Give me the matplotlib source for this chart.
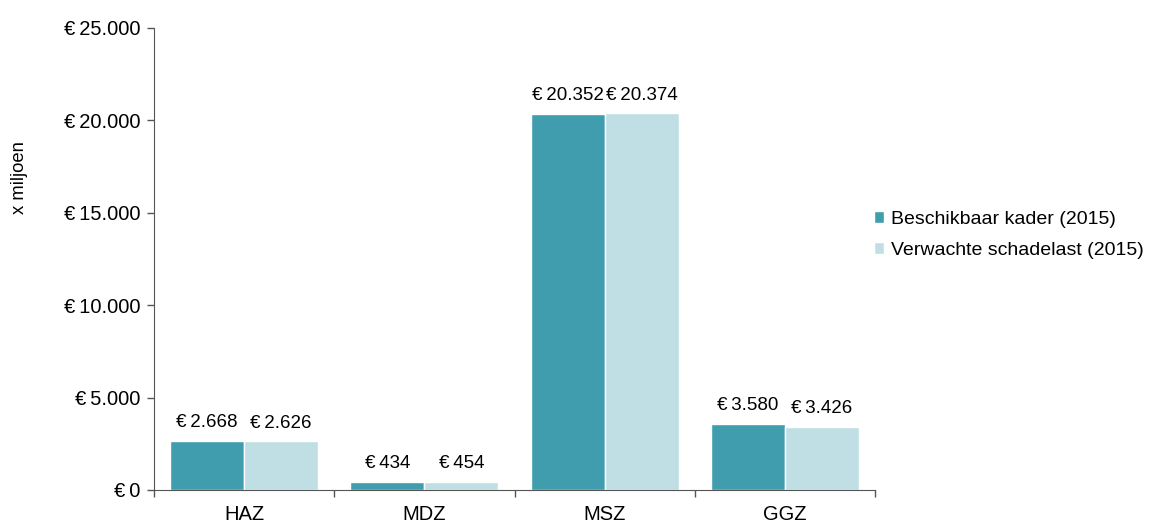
import matplotlib
matplotlib.use("Agg")
import matplotlib.pyplot as plt
import numpy as np
from matplotlib.ticker import FuncFormatter, FixedLocator

categories = ["HAZ", "MDZ", "MSZ", "GGZ"]
kader = [2668, 434, 20352, 3580]
schadelast = [2626, 454, 20374, 3426]
series_names = ["Beschikbaar kader (2015)", "Verwachte schadelast (2015)"]
colors = ["#3F9DAE", "#BFDFE4"]

plt.rcParams['font.family'] = ['Liberation Sans', 'DejaVu Sans']

def eur(v):
    s = f"{int(v):,}".replace(",", ".")
    return "\u20ac\u2009" + s

fig = plt.figure(figsize=(11.63, 5.25), dpi=100)
ax = fig.add_axes([0.1324, 0.0667, 0.62, 0.88])

x = np.arange(len(categories))
w = 0.41
for i, (vals, c) in enumerate(zip([kader, schadelast], colors)):
    pos = x + (i - 0.5) * w
    bars = ax.bar(pos, vals, width=w, color=c, edgecolor="white", linewidth=1, label=series_names[i])
    for b, v in zip(bars, vals):
        ax.annotate(eur(v), (b.get_x() + b.get_width() / 2, v), xytext=(0, 10),
                    textcoords="offset points", ha="center", va="baseline", fontsize=13.5)

ax.set_xlim(-0.5, len(categories) - 0.5)
ax.set_ylim(0, 25000)
ax.set_yticks(np.arange(0, 25001, 5000))
ax.yaxis.set_major_formatter(FuncFormatter(lambda v, p: eur(v)))
ax.set_xticks(x)
ax.set_xticklabels(categories)
ax.xaxis.set_minor_locator(FixedLocator(np.arange(-0.5, len(categories), 1)))
ax.tick_params(axis="x", which="major", length=0, labelsize=14.5, pad=11)
ax.tick_params(axis="x", which="minor", length=5, color="#555555", width=1)
ax.tick_params(axis="y", length=5, color="#555555", width=1, labelsize=14.5, pad=5)
for s in ["top", "right"]:
    ax.spines[s].set_visible(False)
for s in ["left", "bottom"]:
    ax.spines[s].set_color("#555555")
ax.set_ylabel("x miljoen", fontsize=13.3)
ax.yaxis.set_label_coords(-0.1745, 0.677)

ax.legend(loc="center left", bbox_to_anchor=(0.974, 0.552), frameon=False, fontsize=14,
          handlelength=0.55, handleheight=0.55, handletextpad=0.35, labelspacing=0.7)

fig.savefig("out.png", dpi=100)
